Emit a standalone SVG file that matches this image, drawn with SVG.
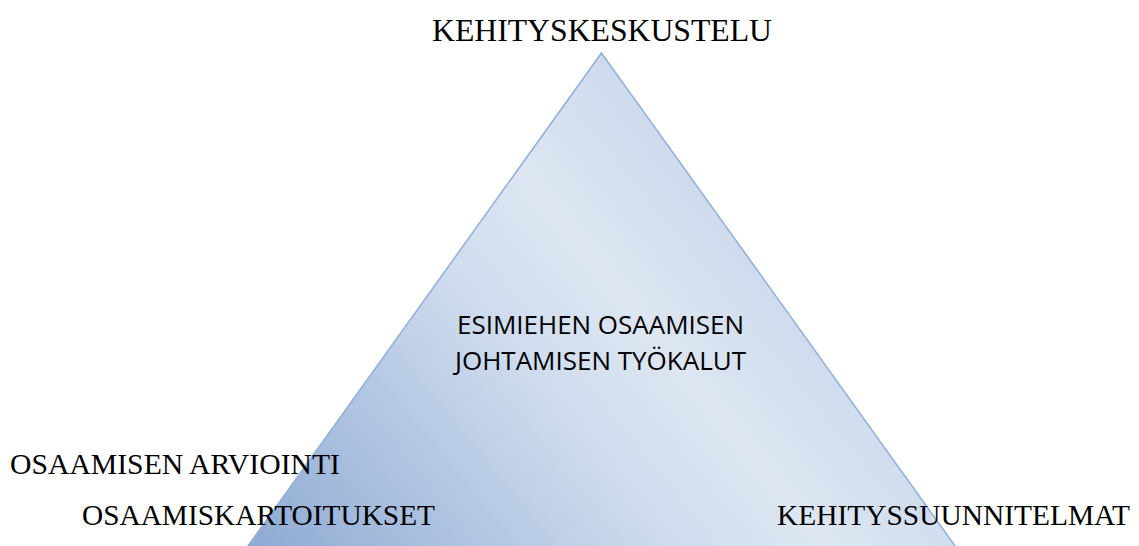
<svg xmlns="http://www.w3.org/2000/svg" width="1139" height="546" viewBox="0 0 1139 546">
<defs>
<linearGradient id="g" gradientUnits="userSpaceOnUse" x1="250" y1="546" x2="760" y2="130">
<stop offset="0" stop-color="#8eaad3"/>
<stop offset="0.5" stop-color="#cfdcee"/>
<stop offset="0.68" stop-color="#dde6f2"/>
<stop offset="1" stop-color="#c3d4ea"/>
</linearGradient>
</defs>
<style>
.s{font-family:"Liberation Serif","Times New Roman",serif;font-size:30px;fill:#000}
.c{font-family:"Open Sans","Noto Sans",sans-serif;font-size:26px;fill:#000}
</style>
<g id="triangle">
<polygon points="601.5,53 246.5,548 956.5,548" fill="url(#g)" stroke="#8fb0d8" stroke-width="1.5"/>
</g>
<g id="connectors"></g>
<g id="center-label">
<text class="c" x="457" y="334" textLength="287" lengthAdjust="spacingAndGlyphs">ESIMIEHEN OSAAMISEN</text>
<text class="c" x="455" y="370" textLength="291" lengthAdjust="spacingAndGlyphs">JOHTAMISEN TYÖKALUT</text>
</g>
<g id="top-label"><text class="s" x="432" y="41" style="font-size:32px" textLength="340" lengthAdjust="spacingAndGlyphs">KEHITYSKESKUSTELU</text></g>
<g id="left-label1"><text class="s" x="10" y="474" textLength="330" lengthAdjust="spacingAndGlyphs">OSAAMISEN ARVIOINTI</text></g>
<g id="left-label2"><text class="s" x="82" y="525" textLength="353" lengthAdjust="spacingAndGlyphs">OSAAMISKARTOITUKSET</text></g>
<g id="right-label"><text class="s" x="777" y="525" textLength="353" lengthAdjust="spacingAndGlyphs">KEHITYSSUUNNITELMAT</text></g>
</svg>
